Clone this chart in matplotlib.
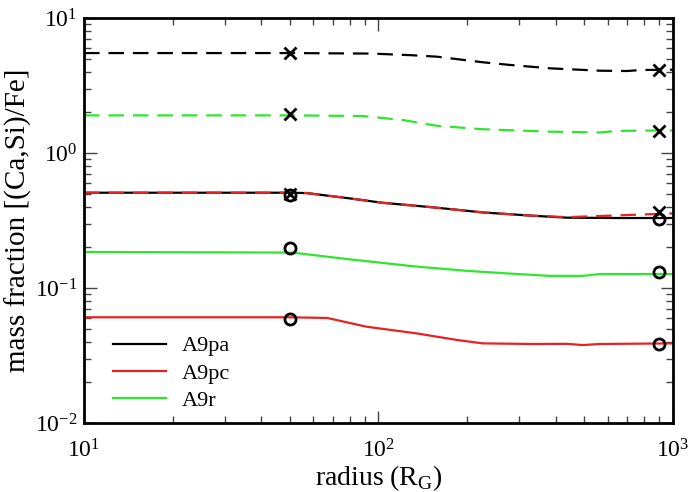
import numpy as np
import matplotlib.pyplot as plt

plt.rcParams['font.family'] = ['Liberation Serif', 'DejaVu Serif']
plt.rcParams['mathtext.fontset'] = 'custom'
plt.rcParams['mathtext.rm'] = 'Liberation Serif'

# A9pa (black)
r_pa = [10, 50, 57, 80, 103, 153, 226, 335, 436, 645, 1000]
pa_solid = [0.508, 0.508, 0.505, 0.461, 0.428, 0.396, 0.363, 0.343, 0.332, 0.330, 0.330]
r_pa_d = [10, 50, 95, 130, 158, 226, 280, 382, 565, 700, 780, 1000]
pa_dash = [5.5, 5.5, 5.45, 5.3, 5.17, 4.70, 4.49, 4.24, 4.07, 4.05, 4.12, 4.14]

# A9pc (red)
r_pc = [10, 50, 67, 91, 135, 185, 226, 335, 436, 494, 565, 1000]
pc_solid = [0.0607, 0.0607, 0.0600, 0.0517, 0.0461, 0.0412, 0.0389, 0.0385, 0.0386, 0.0378, 0.0385, 0.0389]
r_pc_d = [10, 50, 57, 80, 103, 153, 226, 335, 436, 645, 1000]
pc_dash = [0.508, 0.508, 0.505, 0.461, 0.428, 0.396, 0.363, 0.343, 0.335, 0.345, 0.357]

# A9r (green)
r_r = [10, 51, 80, 135, 200, 295, 382, 494, 565, 1000]
r_solid = [0.185, 0.183, 0.163, 0.144, 0.134, 0.127, 0.123, 0.123, 0.127, 0.127]
r_r_d = [10, 50, 88, 120, 158, 226, 382, 565, 650, 1000]
r_dash = [1.90, 1.90, 1.88, 1.76, 1.59, 1.50, 1.44, 1.42, 1.46, 1.47]

# reference points
r_mark = [50, 900]
x_pa = [5.5, 4.15]
x_r = [1.95, 1.45]
x_pc = [0.50, 0.367]
o_pa = [0.49, 0.323]
o_r = [0.197, 0.131]
o_pc = [0.0586, 0.0385]

red = '#e62222'
green = '#2ee62e'

fig = plt.figure(figsize=(6.92, 4.92), dpi=100)
ax = fig.add_axes([0.1214, 0.1402, 0.8511, 0.8232])

lw = 1.6
dash = (0, (7, 4))
ax.plot(r_pa, pa_solid, color='black', lw=lw, label='A9pa')
ax.plot(r_pc, pc_solid, color=red, lw=lw, label='A9pc')
ax.plot(r_r, r_solid, color=green, lw=lw, label='A9r')
ax.plot(r_pa_d, pa_dash, color='black', lw=lw, ls=dash)
ax.plot(r_pc_d, pc_dash, color=red, lw=lw, ls=dash)
ax.plot(r_r_d, r_dash, color=green, lw=lw, ls=dash)

for ys in (x_pa, x_r, x_pc):
    ax.plot(r_mark, ys, ls='none', marker='x', ms=8, mew=2, color='black')
for ys in (o_pa, o_r, o_pc):
    ax.plot(r_mark, ys, ls='none', marker='o', ms=8, mew=2,
            mfc='none', mec='black')

ax.set_xscale('log')
ax.set_yscale('log')
ax.set_xlim(10, 1000)
ax.set_ylim(0.01, 10)

ax.set_xlabel('radius (R$_\\mathrm{G}$)', fontsize=20, labelpad=0)
ax.set_ylabel('mass fraction [(Ca,Si)/Fe]', fontsize=21, labelpad=2)

ax.tick_params(which='both', direction='in', top=True, right=True,
               labelsize=17, color='#444444')
ax.tick_params(which='major', length=9, width=1)
ax.tick_params(which='minor', length=5, width=1)
ax.tick_params(axis='x', pad=12)
ax.tick_params(axis='y', pad=5)
for s in ax.spines.values():
    s.set_linewidth(2)

ax.legend(loc='lower left', frameon=False, fontsize=16, handlelength=2.4,
          handletextpad=0.7, labelspacing=0.3, borderaxespad=0, borderpad=0,
          bbox_to_anchor=(0.049, 0.03))

fig.savefig('out.png', dpi=100)
